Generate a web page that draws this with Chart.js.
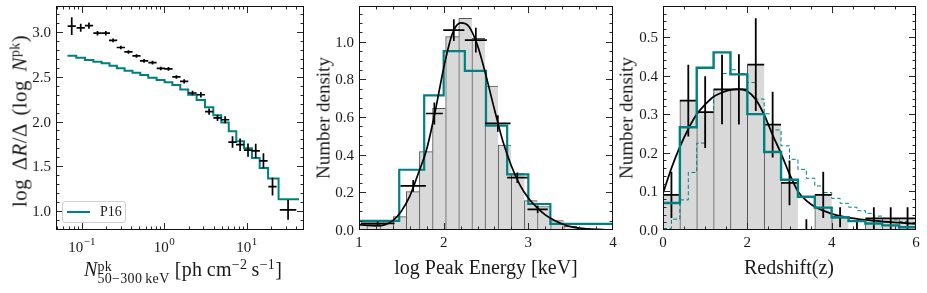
<!DOCTYPE html>
<html>
<head>
<meta charset="utf-8">
<title>GRB peak flux, peak energy and redshift distributions</title>
<script src="https://cdn.jsdelivr.net/npm/chart.js@4.4.1/dist/chart.umd.min.js"></script>
<style>
  body { margin: 0; background: #fff; }
  #fig { position: relative; width: 927px; height: 293px; overflow: hidden;
         font-family: "Liberation Serif", "DejaVu Serif", serif; color: #1a1a1a; }
  #fig canvas { position: absolute; left: 0; top: 0; }
  .t { position: absolute; white-space: nowrap; font-size: 19px; line-height: 19px; }
  .xt { transform: translateX(-50%); font-size: 20px; line-height: 20px; }
  .yt { transform: translate(-50%, -50%) rotate(-90deg); }
  .t sup { font-size: 14px; line-height: 0; vertical-align: 7px; }
  .st { display: inline-block; vertical-align: -7px; font-size: 14px; line-height: 12px; }
  .st span { display: block; }
  #ylab1 { font-size: 21px; line-height: 21px; letter-spacing: 0.4px; word-spacing: 3px; }
  #xlab1 { letter-spacing: 0.3px; }
  #leg { position: absolute; left: 62px; top: 201px; width: 62px; height: 20px;
         border: 1px solid #cfcfcf; border-radius: 3px; background: rgba(255,255,255,0.85); }
  #leg .ln { position: absolute; left: 4px; top: 9px; width: 23px; border-top: 2px solid #008080; }
  #leg .lt { position: absolute; left: 37px; top: 3px; font-size: 14px; line-height: 14px; }
</style>
</head>
<body>
<div id="fig">
  <canvas id="c1" width="927" height="293"></canvas>
  <canvas id="c2" width="927" height="293"></canvas>
  <canvas id="c3" width="927" height="293"></canvas>

  <div class="t yt" id="ylab1" style="left:20px; top:121px;">log&nbsp;Δ<i>R</i>/Δ (log&nbsp;<i>N</i><sup>pk</sup>)</div>
  <div class="t xt" id="xlab1" style="left:183px; top:259px;"><i>N</i><span class="st"><span>pk</span><span>50−300&#8201;keV</span></span>&nbsp;[ph&#8201;cm<sup>−2</sup>&#8201;s<sup>−1</sup>]</div>
  <div id="leg"><span class="ln"></span><span class="lt">P16</span></div>

  <div class="t yt" style="left:323px; top:118px;">Number density</div>
  <div class="t xt" style="left:486px; top:257px;">log Peak Energy [keV]</div>

  <div class="t yt" style="left:626px; top:118px;">Number density</div>
  <div class="t xt" style="left:789px; top:257px;">Redshift(z)</div>
</div>

<script>
// ---- panel 1: log rate vs peak photon flux ----
const rateFlux = [0.0760, 0.0977, 0.123, 0.156, 0.197, 0.241, 0.299, 0.370, 0.463, 0.572,
                  0.723, 0.912, 1.13, 1.41, 1.75, 2.21, 2.79, 3.51, 4.44, 5.49,
                  6.75, 8.34, 10.4, 12.9, 16.0, 20.6, 31.8];
const rateLog = [3.07, 3.05, 3.075, 2.99, 2.99, 2.91, 2.83, 2.78, 2.735, 2.68,
                 2.66, 2.595, 2.59, 2.50, 2.45, 2.32, 2.30, 2.11, 2.04, 2.02,
                 1.77, 1.74, 1.68, 1.67, 1.56, 1.27, 1.01];
const rateErr = [0.10, 0.045, 0.035, 0.025, 0.025, 0.02, 0.02, 0.02, 0.02, 0.02,
                 0.02, 0.02, 0.02, 0.02, 0.025, 0.025, 0.03, 0.035, 0.035, 0.04,
                 0.065, 0.07, 0.075, 0.08, 0.085, 0.10, 0.11];
const fluxHalfDex = [0.05, 0.05, 0.05, 0.05, 0.05, 0.05, 0.05, 0.05, 0.05, 0.05,
                     0.05, 0.05, 0.05, 0.05, 0.05, 0.05, 0.05, 0.05, 0.05, 0.05,
                     0.05, 0.05, 0.05, 0.05, 0.05, 0.05, 0.10];
const p16Flux = [0.0675, 0.0862, 0.110, 0.139, 0.175, 0.218, 0.268, 0.332, 0.414, 0.515,
                 0.643, 0.812, 1.015, 1.26, 1.57, 1.96, 2.48, 3.13, 3.95, 4.93,
                 6.08, 7.50, 9.32, 11.6, 14.4, 18.2, 24.4, 43.3];
const p16Rate = [2.738, 2.716, 2.69, 2.671, 2.652, 2.626, 2.596, 2.57, 2.547, 2.521,
                 2.491, 2.465, 2.439, 2.409, 2.36, 2.30, 2.24, 2.16, 2.07, 1.99,
                 1.89, 1.78, 1.70, 1.59, 1.48, 1.36, 1.13];
const p1XTicks = [0.1, 1, 10];
const p1XLabels = [['10', '−1'], ['10', '0'], ['10', '1']];
const p1YTicks = [1.0, 1.5, 2.0, 2.5, 3.0];
const p1YLabels = ['1.0', '1.5', '2.0', '2.5', '3.0'];

// ---- panel 2: log peak energy ----
const epCenters = [1.016, 1.171, 1.326, 1.481, 1.636, 1.791, 1.946, 2.101, 2.256, 2.411,
                   2.566, 2.721, 2.876, 3.031, 3.186, 3.341, 3.496, 3.651, 3.806, 3.961];
const epHist = [0.03, 0.03, 0.035, 0.071, 0.204, 0.416, 0.646, 1.027, 1.124, 1.018,
                0.765, 0.451, 0.30, 0.156, 0.125, 0.05, 0.02, 0.01, 0.006, 0.003];
const epFitX = [1.0, 1.1, 1.2, 1.3, 1.4, 1.5, 1.6, 1.7, 1.8, 1.9, 2.0, 2.1, 2.2, 2.3, 2.4,
                2.5, 2.6, 2.7, 2.8, 2.9, 3.0, 3.1, 3.2, 3.3, 3.4, 3.5, 3.6, 3.8, 4.0];
const epFitY = [0.028, 0.024, 0.022, 0.027, 0.05, 0.10, 0.18, 0.30, 0.43, 0.63, 0.86, 1.04, 1.10, 1.08, 0.98,
                0.82, 0.64, 0.47, 0.34, 0.24, 0.17, 0.12, 0.08, 0.053, 0.032, 0.018, 0.010, 0.003, 0.0];
const epPtX = [1.22, 1.64, 1.89, 2.12, 2.38, 2.64, 2.87, 3.11];
const epPtY = [0.035, 0.234, 0.619, 1.062, 1.009, 0.566, 0.278, 0.110];
const epPtXErr = [0.2, 0.15, 0.1, 0.125, 0.13, 0.15, 0.12, 0.12];
const epPtYErr = [0.01, 0.031, 0.058, 0.058, 0.066, 0.044, 0.028, 0.02];
const epP16Edges = [1.0, 1.475, 1.77, 2.0, 2.25, 2.5, 2.75, 3.0, 3.26, 4.0];
const epP16 = [0.049, 0.32, 0.715, 0.95, 0.845, 0.555, 0.295, 0.138, 0.033];
const p2XTicks = [1, 2, 3, 4];
const p2XLabels = ['1', '2', '3', '4'];
const p2YTicks = [0, 0.2, 0.4, 0.6, 0.8, 1.0];
const p2YLabels = ['0.0', '0.2', '0.4', '0.6', '0.8', '1.0'];

// ---- panel 3: redshift ----
const zCenters = [0.2, 0.6, 1.0, 1.4, 1.8, 2.2, 2.6, 3.0, 3.4, 3.8, 4.2, 4.6, 5.0, 5.4, 5.8];
const zHist = [0.091, 0.335, 0.305, 0.364, 0.364, 0.428, 0.273, 0.122, 0, 0.091, 0.033, 0, 0.030, 0.030, 0.030];
const zHistErr = [0.06, 0.093, 0.093, 0.09, 0.091, 0.12, 0.085, 0.058, 0.028, 0.06, 0.026, 0.024, 0.029, 0.029, 0.029];
const zFitX = [0, 0.2, 0.4, 0.6, 0.8, 1.0, 1.2, 1.4, 1.6, 1.8, 2.0, 2.2, 2.4, 2.6, 2.8,
               3.0, 3.2, 3.4, 3.6, 3.8, 4.0, 4.4, 4.8, 5.2, 5.6, 6.0];
const zFitY = [0.095, 0.160, 0.215, 0.262, 0.300, 0.325, 0.345, 0.356, 0.363, 0.365, 0.359, 0.338, 0.298, 0.246, 0.198,
               0.145, 0.100, 0.076, 0.060, 0.050, 0.042, 0.032, 0.026, 0.022, 0.019, 0.016];
const zEdges = [0, 0.4, 0.8, 1.2, 1.6, 2.0, 2.4, 2.8, 3.2, 3.6, 4.0, 4.4, 4.8, 5.2, 5.6, 6.0];
const zP16 = [0.07, 0.266, 0.42, 0.46, 0.403, 0.30, 0.202, 0.13, 0.086, 0.058, 0.033, 0.023, 0.017, 0.012, 0.007];
const zDashEdges = [0, 0.2, 0.4, 0.6, 0.8, 1.0, 1.2, 1.4, 1.6, 1.8, 2.0, 2.2, 2.4, 2.6, 2.8, 3.0,
                    3.2, 3.4, 3.6, 3.8, 4.0, 4.2, 4.4, 4.6, 4.8, 5.0, 5.2, 5.4, 5.6, 5.8, 6.0];
const zDash = [0.004, 0.028, 0.078, 0.149, 0.225, 0.304, 0.363, 0.405, 0.415, 0.405, 0.382, 0.339, 0.301, 0.259, 0.218,
               0.183, 0.157, 0.134, 0.114, 0.097, 0.082, 0.069, 0.059, 0.050, 0.043, 0.036, 0.030, 0.026, 0.022, 0.017];
const p3XTicks = [0, 2, 4, 6];
const p3XLabels = ['0', '2', '4', '6'];
const p3YTicks = [0, 0.1, 0.2, 0.3, 0.4, 0.5];
const p3YLabels = ['0.0', '0.1', '0.2', '0.3', '0.4', '0.5'];

const TEAL = '#008080';
const FONT = '"Liberation Serif", "DejaVu Serif", serif';

// helpers
function steps(edges, vals) {
  return edges.map((e, i) => ({ x: e, y: vals[Math.min(i, vals.length - 1)] }));
}
function crosses(xs, ys, x0, x1, y0, y1) {
  const d = [];
  xs.forEach((x, i) => {
    d.push({ x: x0[i], y: ys[i] }, { x: x1[i], y: ys[i] }, { x: x1[i], y: null });
    d.push({ x: x, y: y0[i] }, { x: x, y: y1[i] }, { x: x, y: null });
  });
  return d;
}
function ticksBetween(a, b, step) {
  const out = [];
  for (let k = 0; a + k * step <= b + 1e-9; k++) out.push(+(a + k * step).toFixed(6));
  return out;
}
function logMinor(lo, hi) {
  const out = [];
  for (let p = Math.floor(Math.log10(lo)); p <= Math.ceil(Math.log10(hi)); p++)
    for (let m = 2; m <= 9; m++) { const v = m * Math.pow(10, p); if (v >= lo && v <= hi) out.push(v); }
  return out;
}

// matplotlib-like frame: inward ticks on all four sides, tick labels
const mplAxes = {
  id: 'mplAxes',
  afterDraw(chart, args, o) {
    const { ctx, chartArea: a } = chart;
    const sx = chart.scales.x, sy = chart.scales.y;
    ctx.save();
    ctx.strokeStyle = '#2a2a2a';
    ctx.lineWidth = 1;
    ctx.beginPath();
    const vt = (v, len) => {
      const p = Math.round(sx.getPixelForValue(v)) + 0.5;
      if (p < a.left || p > a.right) return;
      ctx.moveTo(p, a.bottom); ctx.lineTo(p, a.bottom - len);
      ctx.moveTo(p, a.top); ctx.lineTo(p, a.top + len);
    };
    const ht = (v, len) => {
      const p = Math.round(sy.getPixelForValue(v)) + 0.5;
      if (p < a.top || p > a.bottom) return;
      ctx.moveTo(a.left, p); ctx.lineTo(a.left + len, p);
      ctx.moveTo(a.right, p); ctx.lineTo(a.right - len, p);
    };
    o.xMinor.forEach(v => vt(v, 3.5));
    o.xMajor.forEach(v => vt(v, 7));
    o.yMinor.forEach(v => ht(v, 3.5));
    o.yMajor.forEach(v => ht(v, 7));
    ctx.stroke();
    ctx.strokeStyle = '#111';
    ctx.strokeRect(a.left + 0.5, a.top + 0.5, a.right - a.left - 1, a.bottom - a.top - 1);

    ctx.fillStyle = '#1a1a1a';
    ctx.textBaseline = 'alphabetic';
    ctx.font = '15px ' + FONT;
    ctx.textAlign = 'right';
    o.yMajor.forEach((v, i) => ctx.fillText(o.yLabels[i], a.left - 5, sy.getPixelForValue(v) + 5));
    o.xMajor.forEach((v, i) => {
      const p = sx.getPixelForValue(v);
      const lab = o.xLabels[i];
      if (Array.isArray(lab)) {
        ctx.font = '15px ' + FONT;
        const wb = ctx.measureText(lab[0]).width;
        ctx.font = '11px ' + FONT;
        const we = ctx.measureText(lab[1]).width;
        const x0 = p - (wb + we) / 2;
        ctx.textAlign = 'left';
        ctx.font = '15px ' + FONT;
        ctx.fillText(lab[0], x0, a.bottom + 22);
        ctx.font = '11px ' + FONT;
        ctx.fillText(lab[1], x0 + wb + 0.5, a.bottom + 15);
      } else {
        ctx.font = '15px ' + FONT;
        ctx.textAlign = 'center';
        ctx.fillText(lab, p, a.bottom + 17);
      }
    });
    ctx.restore();
  }
};

function baseOptions(pad, xScale, yScale, axes) {
  return {
    responsive: false,
    animation: false,
    events: [],
    layout: { padding: pad },
    plugins: { legend: { display: false }, tooltip: { enabled: false }, mplAxes: axes },
    scales: { x: Object.assign({ display: false }, xScale), y: Object.assign({ display: false }, yScale) }
  };
}

// ---- chart 1 ----
new Chart(document.getElementById('c1'), {
  type: 'line',
  data: {
    datasets: [
      {
        data: crosses(rateFlux, rateLog,
          rateFlux.map((x, i) => x / Math.pow(10, fluxHalfDex[i])),
          rateFlux.map((x, i) => x * Math.pow(10, fluxHalfDex[i])),
          rateLog.map((y, i) => y - rateErr[i]),
          rateLog.map((y, i) => y + rateErr[i])),
        borderColor: '#000', borderWidth: 1.7, pointRadius: 0, spanGaps: false, order: 1
      },
      {
        data: steps(p16Flux, p16Rate),
        stepped: 'before', borderColor: TEAL, borderWidth: 2, pointRadius: 0, order: 2
      }
    ]
  },
  options: baseOptions({ left: 56, top: 6, right: 623, bottom: 63 },
    { type: 'logarithmic', min: 0.049, max: 49.6 },
    { type: 'linear', min: 0.784, max: 3.295 },
    { xMajor: p1XTicks, xLabels: p1XLabels, xMinor: logMinor(0.049, 49.6),
      yMajor: p1YTicks, yLabels: p1YLabels, yMinor: ticksBetween(0.8, 3.2, 0.1) }),
  plugins: [mplAxes]
});

// ---- chart 2 ----
new Chart(document.getElementById('c2'), {
  type: 'bar',
  data: {
    datasets: [
      {
        type: 'line',
        data: crosses(epPtX, epPtY,
          epPtX.map((x, i) => x - epPtXErr[i]), epPtX.map((x, i) => x + epPtXErr[i]),
          epPtY.map((y, i) => y - epPtYErr[i]), epPtY.map((y, i) => y + epPtYErr[i])),
        borderColor: '#000', borderWidth: 1.7, pointRadius: 0, spanGaps: false, order: 1
      },
      {
        type: 'line',
        data: epFitX.map((x, i) => ({ x: x, y: epFitY[i] })),
        borderColor: '#000', borderWidth: 1.7, pointRadius: 0, cubicInterpolationMode: 'monotone', order: 2
      },
      {
        type: 'line',
        data: steps(epP16Edges, epP16),
        stepped: 'before', borderColor: TEAL, borderWidth: 2.2, pointRadius: 0, order: 3
      },
      {
        type: 'bar',
        data: epCenters.map((x, i) => ({ x: x, y: epHist[i] })),
        backgroundColor: '#d9d9d9', borderColor: '#555',
        borderWidth: { top: 1, left: 1, right: 0, bottom: 0 }, borderSkipped: false,
        barPercentage: 1, categoryPercentage: 1, clip: 0, order: 5
      }
    ]
  },
  options: baseOptions({ left: 359, top: 6, right: 314, bottom: 63 },
    { type: 'linear', min: 1, max: 4, offset: false },
    { type: 'linear', min: 0, max: 1.19 },
    { xMajor: p2XTicks, xLabels: p2XLabels, xMinor: ticksBetween(1, 4, 0.2),
      yMajor: p2YTicks, yLabels: p2YLabels, yMinor: ticksBetween(0, 1.15, 0.05) }),
  plugins: [mplAxes]
});

// ---- chart 3 ----
new Chart(document.getElementById('c3'), {
  type: 'bar',
  data: {
    datasets: [
      {
        type: 'line',
        data: crosses(zCenters, zHist,
          zCenters.map(x => x - 0.2), zCenters.map(x => x + 0.2),
          zHist.map((y, i) => y - zHistErr[i]), zHist.map((y, i) => y + zHistErr[i])),
        borderColor: '#000', borderWidth: 1.8, pointRadius: 0, spanGaps: false, order: 3
      },
      {
        type: 'line',
        data: zFitX.map((x, i) => ({ x: x, y: zFitY[i] })),
        borderColor: '#000', borderWidth: 1.8, pointRadius: 0, cubicInterpolationMode: 'monotone', order: 2
      },
      {
        type: 'line',
        data: steps(zEdges, zP16),
        stepped: 'before', borderColor: TEAL, borderWidth: 2.4, pointRadius: 0, order: 1
      },
      {
        type: 'line',
        data: steps(zDashEdges, zDash),
        stepped: 'before', borderColor: TEAL, borderWidth: 1, borderDash: [4, 2.5], pointRadius: 0, order: 4
      },
      {
        type: 'bar',
        data: zCenters.map((x, i) => ({ x: x, y: zHist[i] })),
        backgroundColor: '#d9d9d9', borderColor: '#555',
        borderWidth: { top: 0, left: 1, right: 0, bottom: 0 }, borderSkipped: false,
        barPercentage: 1, categoryPercentage: 1, clip: 0, order: 5
      }
    ]
  },
  options: baseOptions({ left: 663, top: 6, right: 11, bottom: 63 },
    { type: 'linear', min: 0, max: 6, offset: false },
    { type: 'linear', min: 0, max: 0.58 },
    { xMajor: p3XTicks, xLabels: p3XLabels, xMinor: ticksBetween(0, 6, 0.5),
      yMajor: p3YTicks, yLabels: p3YLabels, yMinor: ticksBetween(0, 0.58, 0.02) }),
  plugins: [mplAxes]
});
</script>
</body>
</html>
